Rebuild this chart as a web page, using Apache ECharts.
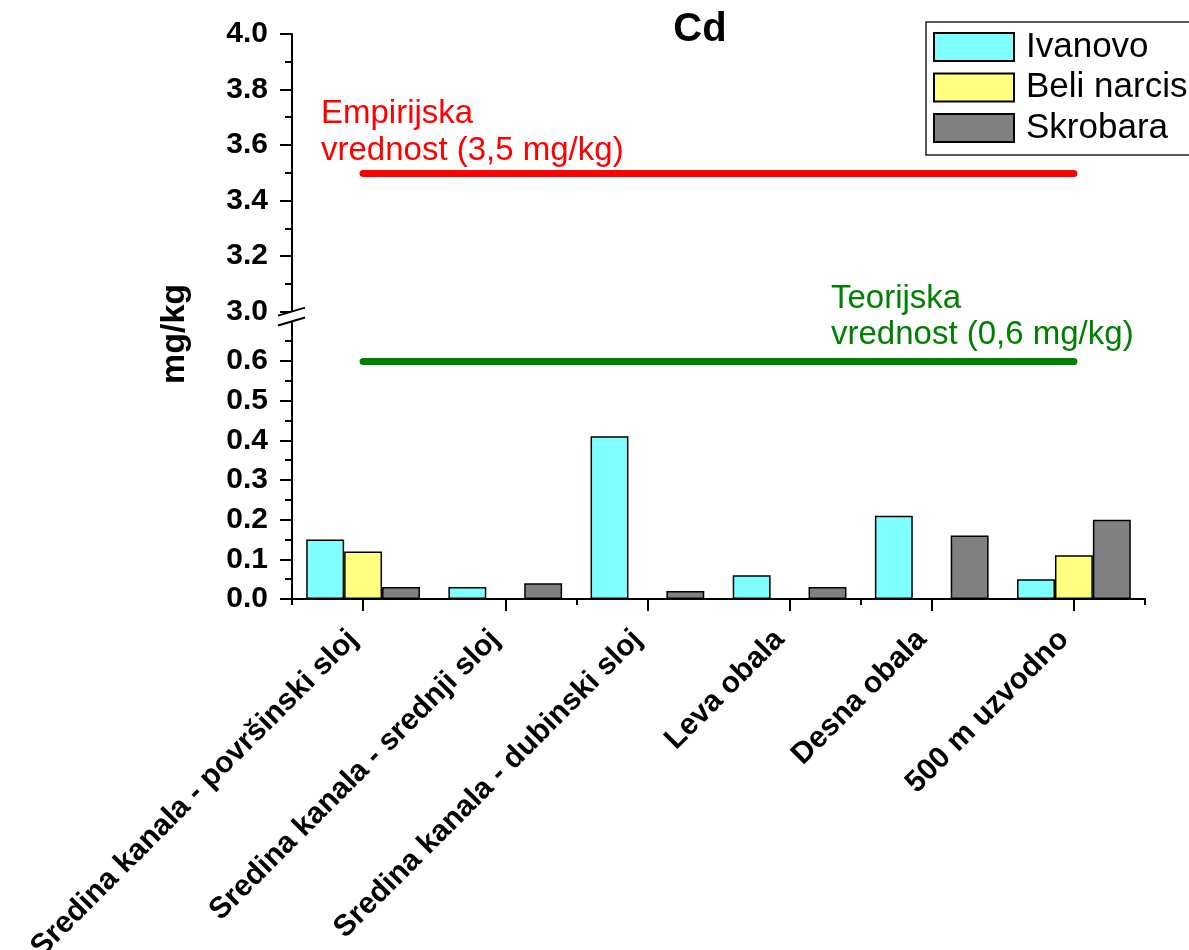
<!DOCTYPE html>
<html>
<head>
<meta charset="utf-8">
<script src="https://cdn.jsdelivr.net/npm/echarts@6/dist/echarts.min.js"></script>
<style>
html,body{margin:0;padding:0;background:#fff;}
#chart{width:1189px;height:950px;}
</style>
</head>
<body>
<div id="chart"></div>
<script>
// ---- data ----
const categories = ['Sredina kanala - površinski sloj', 'Sredina kanala - srednji sloj', 'Sredina kanala - dubinski sloj', 'Leva obala', 'Desna obala', '500 m uzvodno'];
const seriesNames = ['Ivanovo', 'Beli narcis', 'Skrobara'];
const ivanovo = [0.15, 0.03, 0.41, 0.06, 0.21, 0.05];
const beliNarcis = [0.12, null, null, null, null, 0.11];
const skrobara = [0.03, 0.04, 0.02, 0.03, 0.16, 0.20];
const empirijskaValue = 3.5;
const teorijskaValue = 0.6;
const lowerAxisRange = [0, 0.7];
const upperAxisRange = [3.0, 4.0];
const lowerInterval = 0.1;
const upperInterval = 0.2;
const titleText = 'Cd';
const yAxisTitle = 'mg/kg';
const empirijskaLabel = 'Empirijska\nvrednost (3,5 mg/kg)';
const teorijskaLabel = 'Teorijska\nvrednost (0,6 mg/kg)';

const FONT = '"Liberation Sans", Arial, sans-serif';
const colors = ['#80FFFF', '#FFFF80', '#808080'];

const chart = echarts.init(document.getElementById('chart'), null, {renderer: 'canvas'});

const yAxisCommon = {
  type: 'value',
  axisLine: {show: true, lineStyle: {color: '#000', width: 2}},
  axisTick: {show: true, length: 12, lineStyle: {color: '#000', width: 2}},
  minorTick: {show: true, splitNumber: 2, length: 7, lineStyle: {color: '#000', width: 2}},
  splitLine: {show: false},
  minorSplitLine: {show: false},
  axisLabel: {color: '#000', fontFamily: FONT, fontWeight: 'bold', fontSize: 30, margin: 24,
    formatter: v => v.toFixed(1)}
};

const option = {
  animation: false,
  backgroundColor: '#fff',
  grid: [
    {left: 292, right: 44, top: 321.3, bottom: 351, containLabel: false, outerBoundsMode: 'none'},
    {left: 292, right: 44, top: 34, bottom: 638.5, containLabel: false, outerBoundsMode: 'none'}
  ],
  legend: {
    data: seriesNames,
    orient: 'vertical',
    left: 926, top: 22,
    itemWidth: 80, itemHeight: 28, itemGap: 5.5,
    padding: [7.5, 60, 9.5, 7],
    borderColor: '#222', borderWidth: 1.5,
    icon: 'rect',
    textStyle: {color: '#000', fontFamily: FONT, fontSize: 35, padding: [0, 0, 0, 7]}
  },
  xAxis: [
    {
      type: 'category', gridIndex: 0, data: categories, position: 'bottom',
      axisLine: {show: true, lineStyle: {color: '#000', width: 2}},
      axisTick: {show: true, alignWithLabel: true, length: 12, lineStyle: {color: '#000', width: 2}},
      axisLabel: {interval: 0, rotate: 45, margin: 26, padding: [0, 14, 0, 0], color: '#000', fontFamily: FONT, fontWeight: 'bold', fontSize: 30}
    },
    {
      type: 'category', gridIndex: 1, data: categories,
      show: false
    },
    {
      type: 'category', gridIndex: 0, data: categories, position: 'bottom', offset: 0,
      axisLine: {show: false},
      axisTick: {show: true, length: 6, lineStyle: {color: '#000', width: 2}},
      axisLabel: {show: false}
    }
  ],
  yAxis: [
    Object.assign({}, yAxisCommon, {gridIndex: 0, min: lowerAxisRange[0], max: lowerAxisRange[1], interval: lowerInterval,
      axisLabel: Object.assign({}, yAxisCommon.axisLabel, {showMaxLabel: false})}),
    Object.assign({}, yAxisCommon, {gridIndex: 1, min: upperAxisRange[0], max: upperAxisRange[1], interval: upperInterval})
  ],
  series: [
    {name: seriesNames[0], type: 'bar', xAxisIndex: 0, yAxisIndex: 0, data: ivanovo, barGap: '0%', barCategoryGap: '20%',
      itemStyle: {color: colors[0], borderColor: '#000', borderWidth: 1.5}},
    {name: seriesNames[1], type: 'bar', xAxisIndex: 0, yAxisIndex: 0, data: beliNarcis, barGap: '0%', barCategoryGap: '20%',
      itemStyle: {color: colors[1], borderColor: '#000', borderWidth: 1.5}},
    {name: seriesNames[2], type: 'bar', xAxisIndex: 0, yAxisIndex: 0, data: skrobara, barGap: '0%', barCategoryGap: '20%',
      itemStyle: {color: colors[2], borderColor: '#000', borderWidth: 1.5}},
    {name: 'teorijska', type: 'line', xAxisIndex: 0, yAxisIndex: 0, data: [],
      markLine: {silent: true, symbol: 'none', label: {show: false},
        lineStyle: {color: '#008000', width: 7, type: 'solid', cap: 'round'},
        data: [[{coord: [categories[0], teorijskaValue]}, {coord: [categories[categories.length - 1], teorijskaValue]}]]}},
    {name: 'empirijska', type: 'line', xAxisIndex: 1, yAxisIndex: 1, data: [],
      markLine: {silent: true, symbol: 'none', label: {show: false},
        lineStyle: {color: '#FF0000', width: 7, type: 'solid', cap: 'round'},
        data: [[{coord: [categories[0], empirijskaValue]}, {coord: [categories[categories.length - 1], empirijskaValue]}]]}}
  ]
};
chart.setOption(option);

// break marks and text annotations
const p3 = chart.convertToPixel({gridIndex: 1}, [0, upperAxisRange[0]]);
const p07 = chart.convertToPixel({gridIndex: 0}, [0, lowerAxisRange[1]]);
const axisX = 292;
const slope = 8 / 27;
const xl = axisX - 14, xr = axisX + 13;
const y1 = p3[1], y2 = p07[1];
const lineAt = (yc, x) => yc - (x - axisX) * slope;

chart.setOption({
  graphic: [
    {type: 'polygon', z: 100, shape: {points: [[xl, lineAt(y1, xl)], [xr, lineAt(y1, xr)], [xr, lineAt(y2, xr)], [xl, lineAt(y2, xl)]]},
      style: {fill: '#fff'}},
    {type: 'line', z: 101, shape: {x1: xl, y1: lineAt(y1, xl), x2: xr, y2: lineAt(y1, xr)}, style: {stroke: '#000', lineWidth: 2}},
    {type: 'line', z: 101, shape: {x1: xl, y1: lineAt(y2, xl), x2: xr, y2: lineAt(y2, xr)}, style: {stroke: '#000', lineWidth: 2}},
    {type: 'text', z: 101, style: {text: titleText, x: 700, y: 30, align: 'center', verticalAlign: 'middle',
      font: 'bold 40px ' + FONT, fill: '#000'}},
    {type: 'text', z: 101, rotation: Math.PI / 2, x: 175, y: 334, style: {text: yAxisTitle, x: 0, y: 0, align: 'center', verticalAlign: 'middle',
      font: 'bold 34px ' + FONT, fill: '#000'}},
    {type: 'text', z: 101, style: {text: empirijskaLabel, x: 321, y: 95, align: 'left', verticalAlign: 'top', lineHeight: 37,
      font: '33px ' + FONT, fill: '#FF0000'}},
    {type: 'text', z: 101, style: {text: teorijskaLabel, x: 831, y: 281, align: 'left', verticalAlign: 'top', lineHeight: 36,
      font: '33px ' + FONT, fill: '#008000'}}
  ]
});
</script>
</body>
</html>
